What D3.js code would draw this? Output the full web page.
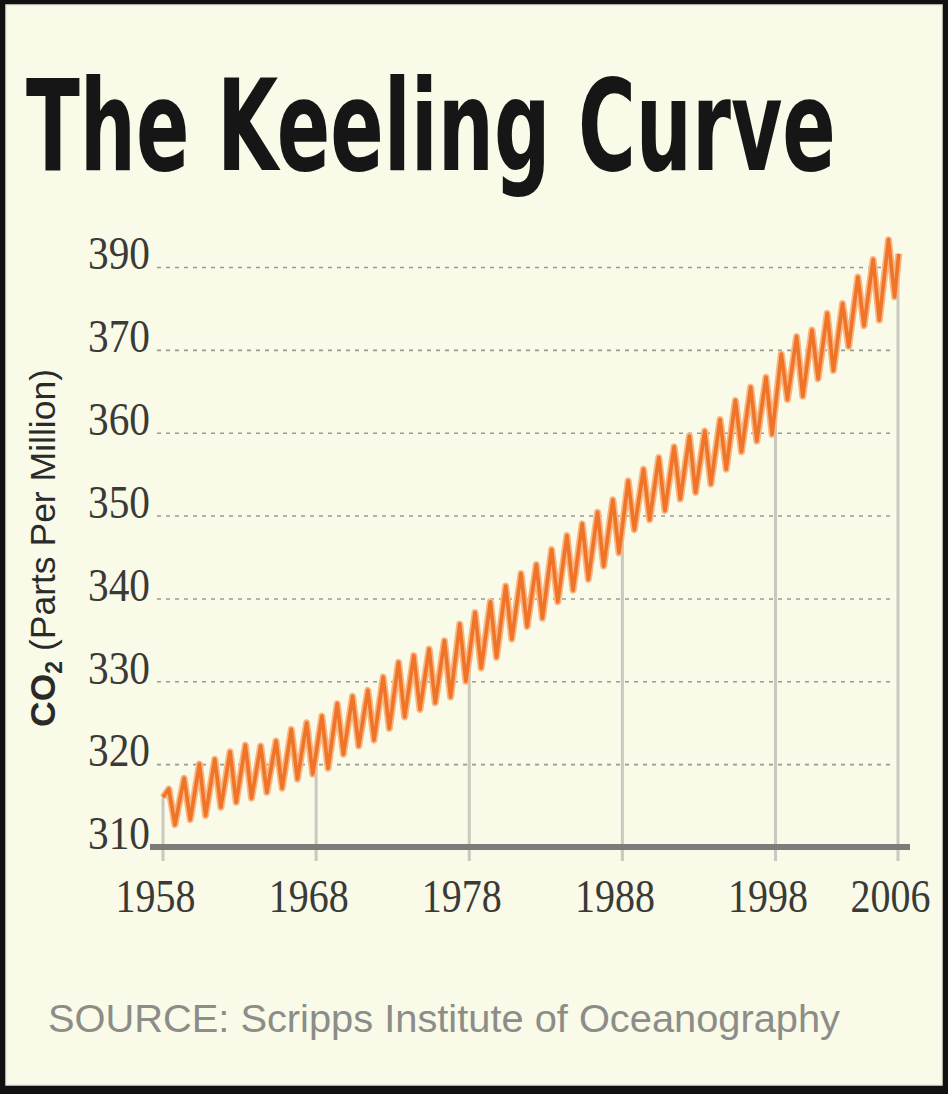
<!DOCTYPE html>
<html>
<head>
<meta charset="utf-8">
<script src="https://cdn.jsdelivr.net/npm/d3@7"></script>
<style>
  html, body { margin: 0; padding: 0; background: #111; }
  #chart { width: 948px; height: 1094px; }
</style>
</head>
<body>
<div id="chart"></div>
<script>
// years of the record, one seasonal peak (May) and trough (Oct) per year
var years = d3.range(1958, 2006);
var peaks = [317.0, 318.3, 320.0, 320.6, 321.5, 322.3, 322.2, 322.8, 324.2, 325.0,
             325.8, 327.3, 328.2, 328.9, 330.5, 332.3, 333.1, 333.9, 334.9, 336.9,
             338.3, 339.6, 341.5, 343.0, 344.1, 345.9, 347.6, 349.0, 350.4, 351.9,
             354.2, 355.6, 357.0, 358.3, 359.6, 360.2, 361.6, 363.9, 365.5, 366.7,
             369.5, 371.6, 372.4, 374.4, 375.6, 378.8, 380.9, 383.3];
var troughs = [312.7, 313.3, 313.8, 314.8, 315.4, 315.9, 316.6, 317.1, 318.2, 318.8,
               319.5, 321.2, 322.2, 322.9, 324.3, 325.7, 326.6, 327.4, 328.1, 330.0,
               331.6, 332.9, 335.1, 336.6, 337.6, 339.6, 341.0, 342.3, 343.9, 345.5,
               348.3, 349.5, 350.6, 352.0, 352.8, 353.8, 355.6, 357.7, 359.0, 359.8,
               364.0, 364.4, 366.5, 367.5, 370.4, 372.9, 373.6, 376.4];
var firstReading = {year: 1958.0, value: 316.0};
var lastReading = {year: 2006.05, value: 381.6};

var xTicks = [1958, 1968, 1978, 1988, 1998, 2006];
var yTicks = [310, 320, 330, 340, 350, 360, 370, 380];
var yTickLabels = ["310", "320", "330", "340", "350", "360", "370", "390"];

var W = 948, H = 1094;

var svg = d3.select('#chart').append('svg')
    .attr('width', W)
    .attr('height', H);

// black frame and cream panel
svg.append('rect').attr('width', W).attr('height', H).attr('fill', '#111');
svg.append('rect')
    .attr('x', 6).attr('y', 5)
    .attr('width', 936).attr('height', 1080)
    .attr('fill', '#f9fae8')
    .attr('stroke', '#e6e6dc')
    .attr('stroke-width', 1.5);

// title, squeezed horizontally to the condensed look of the original
var title = svg.append('text')
    .style('font-family', '"Liberation Sans Narrow", "DejaVu Sans Condensed", sans-serif')
    .style('font-weight', 'bold')
    .style('font-size', '126px')
    .style('fill', '#161616')
    .text('The Keeling Curve');
var titleW = title.node().getComputedTextLength();
title.attr('transform', `translate(26,170) scale(${810 / titleW},1)`);

var xScale = d3.scaleLinear()
    .domain([1958, 2006])
    .range([163, 898]);

var yScale = d3.scaleLinear()
    .domain([310, 380])
    .range([847, 267]);

// build the zigzag from the readings
var series = [firstReading];
years.forEach(function(yr, i) {
  series.push({year: yr + 0.38, value: peaks[i]});
  series.push({year: yr + 0.78, value: troughs[i]});
});
series.push(lastReading);

// dashed horizontal gridlines + labels
var gridRight = 893, gridLeft = 157;
var yAxis = d3.axisLeft(yScale)
    .tickValues(yTicks)
    .tickFormat((d, i) => yTickLabels[i])
    .tickSize(-(gridRight - gridLeft))
    .tickPadding(7);

var yg = svg.append('g')
    .attr('class', 'y axis')
    .attr('transform', `translate(${gridLeft},0)`)
    .call(yAxis);
yg.select('.domain').remove();
yg.selectAll('line')
    .attr('stroke', '#9a9a92')
    .attr('stroke-width', 1.6)
    .attr('stroke-dasharray', '4,5');
yg.selectAll('text')
    .attr('dy', '0.04em')
    .attr('textLength', 62)
    .attr('lengthAdjust', 'spacingAndGlyphs')
    .style('font-family', '"Liberation Serif", "DejaVu Serif", serif')
    .style('font-size', '46px')
    .style('fill', '#3a3a36');

// value of the curve at a given year, for the vertical drop lines
var bisect = d3.bisector(d => d.year).left;
function curveAt(yr) {
  var i = bisect(series, yr);
  if (i <= 0) return series[0].value;
  if (i >= series.length) return series[series.length - 1].value;
  var a = series[i - 1], b = series[i];
  return a.value + (b.value - a.value) * (yr - a.year) / (b.year - a.year);
}

svg.selectAll('.drop')
    .data(xTicks)
    .enter()
    .append('line')
    .attr('class', 'drop')
    .attr('x1', d => xScale(d))
    .attr('x2', d => xScale(d))
    .attr('y1', d => yScale(curveAt(d)))
    .attr('y2', yScale(310) + 14)
    .attr('stroke', '#c9c9c0')
    .attr('stroke-width', 3);

// the axis bar
svg.append('line')
    .attr('x1', xScale(1958) - 13)
    .attr('x2', xScale(2006) + 12)
    .attr('y1', yScale(310))
    .attr('y2', yScale(310))
    .attr('stroke', '#7c7c78')
    .attr('stroke-width', 6);

var xAxis = d3.axisBottom(xScale)
    .tickValues(xTicks)
    .tickFormat(d3.format('d'))
    .tickSize(0)
    .tickPadding(0);

var xg = svg.append('g')
    .attr('class', 'x axis')
    .attr('transform', `translate(0,${yScale(310)})`)
    .call(xAxis);
xg.select('.domain').remove();
xg.selectAll('text')
    .attr('dx', -8)
    .attr('y', 65)
    .attr('dy', 0)
    .attr('textLength', 80)
    .attr('lengthAdjust', 'spacingAndGlyphs')
    .style('font-family', '"Liberation Serif", "DejaVu Serif", serif')
    .style('font-size', '46px')
    .style('fill', '#3a3a36');

// the Keeling curve
var line = d3.line()
    .x(d => xScale(d.year))
    .y(d => yScale(d.value));

svg.append('path')
    .datum(series)
    .attr('d', line)
    .attr('fill', 'none')
    .attr('stroke', '#f9b683')
    .attr('stroke-width', 7)
    .attr('stroke-linejoin', 'round');

svg.append('path')
    .datum(series)
    .attr('d', line)
    .attr('fill', 'none')
    .attr('stroke', '#ef7427')
    .attr('stroke-width', 3.6)
    .attr('stroke-linejoin', 'round');

// y axis title
var ytitle = svg.append('text')
    .attr('transform', 'translate(55,727) rotate(-90)')
    .style('font-family', '"Liberation Sans", Arial, sans-serif')
    .style('font-size', '35.5px')
    .style('fill', '#2a2a2a');
ytitle.append('tspan').style('font-weight', 'bold').text('CO');
ytitle.append('tspan').attr('dy', 7).style('font-size', '23px').style('font-weight', 'bold').text('2');
ytitle.append('tspan').attr('dy', -7).text(' (Parts Per Million)');

svg.append('text')
    .attr('x', 48)
    .attr('y', 1032)
    .attr('textLength', 792)
    .attr('lengthAdjust', 'spacingAndGlyphs')
    .style('font-family', '"Liberation Sans", Arial, sans-serif')
    .style('font-size', '38px')
    .style('fill', '#8c8c88')
    .text('SOURCE: Scripps Institute of Oceanography');
</script>
</body>
</html>
